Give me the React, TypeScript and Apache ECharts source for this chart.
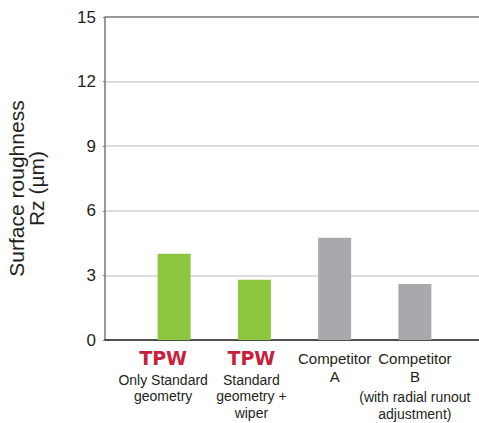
import React, { useEffect, useRef } from "react";
import * as echarts from "echarts";

const categories = ["tpw1", "tpw2", "compA", "compB"];
const labelLogo = ["TPW", "TPW", "", ""];
const labelMain = [["Only Standard", "geometry"], ["Standard", "geometry +", "wiper"], ["Competitor", "A"], ["Competitor", "B"]];
const labelNote = [[], [], [], ["(with radial runout", "adjustment)"]];
const values = [4.0, 2.8, 4.75, 2.6];
const yTicks = [0, 3, 6, 9, 12, 15];

const barColors = ["#8dc63f", "#8dc63f", "#a7a9ac", "#a7a9ac"];
const labelShift = [22, 6, 0, 0];
const FONT = "'Liberation Sans', Arial, Helvetica, sans-serif";

function buildLabel(i: number): string {
  const parts: string[] = [];
  if (labelLogo[i]) {
    parts.push(`{logo|${labelLogo[i]}}`);
    parts.push(`{sp1| }`);
    labelMain[i].forEach((l) => parts.push(`{t|${l}}`));
  } else {
    labelMain[i].forEach((l) => parts.push(`{c|${l}}`));
    if (labelNote[i].length) {
      parts.push(`{sp2| }`);
      labelNote[i].forEach((l) => parts.push(`{t|${l}}`));
    }
  }
  return parts.join("\n");
}

export default function App() {
  const ref = useRef<HTMLDivElement>(null);
  useEffect(() => {
    if (!ref.current) return;
    const chart = echarts.init(ref.current, undefined, { renderer: "svg" });
    const grey = "#d2d2d2";
    chart.setOption({
      animation: false,
      backgroundColor: "#ffffff",
      textStyle: { fontFamily: FONT },
      grid: [
        { left: 105, right: 0, top: 17, bottom: 83, containLabel: false, outerBoundsMode: "none" },
        { left: 134, right: 24, top: 17, bottom: 83, containLabel: false, outerBoundsMode: "none" },
      ],
      xAxis: [
        {
          type: "value",
          gridIndex: 0,
          min: 0,
          max: 1,
          axisLine: { show: true, lineStyle: { color: "#231f20", width: 1.5 } },
          axisTick: { show: false },
          axisLabel: { show: false },
          splitLine: { show: false },
        },
        {
          type: "category",
          gridIndex: 1,
          data: categories.map((c, i) => ({
            value: c,
            textStyle: { padding: [0, labelShift[i], 0, 0] },
          })),
          axisLine: { show: false },
          axisTick: { show: false },
          axisLabel: {
            interval: 0,
            margin: 9,
            formatter: (_v: string, idx: number) => buildLabel(idx),
            rich: {
              logo: {
                fontFamily: "'DejaVu Sans', sans-serif",
                fontWeight: "bold",
                fontSize: 19,
                color: "#c8203a",
                lineHeight: 18,
              },
              sp1: { fontSize: 1, lineHeight: 4.5 },
              sp2: { fontSize: 1, lineHeight: 4 },
              t: { fontFamily: FONT, fontSize: 14, color: "#231f20", lineHeight: 16.5 },
              c: { fontFamily: FONT, fontSize: 15, color: "#231f20", lineHeight: 18 },
            },
          },
        },
      ],
      yAxis: [
        {
          type: "value",
          gridIndex: 0,
          min: yTicks[0],
          max: yTicks[yTicks.length - 1],
          interval: 3,
          name: "Surface roughness\nRz (µm)",
          nameLocation: "middle",
          nameRotate: 90,
          nameGap: 59,
          nameTextStyle: {
            fontFamily: FONT,
            fontSize: 21,
            lineHeight: 20,
            color: "#231f20",
            padding: [0, 20, 0, 0],
          },
          axisLine: { show: true, lineStyle: { color: "#777777", width: 1.5 } },
          axisTick: { show: true, length: 2, lineStyle: { color: "#777777" } },
          axisLabel: { fontFamily: FONT, fontSize: 17, color: "#231f20", margin: 9 },
          splitLine: {
            show: true,
            lineStyle: { color: [grey, grey, grey, grey, grey, "#777777"], width: 1.5 },
          },
        },
        {
          type: "value",
          gridIndex: 1,
          min: yTicks[0],
          max: yTicks[yTicks.length - 1],
          show: false,
          splitLine: { show: false },
        },
      ],
      series: [
        {
          type: "bar",
          xAxisIndex: 1,
          yAxisIndex: 1,
          barWidth: 33,
          data: values.map((v, i) => ({ value: v, itemStyle: { color: barColors[i] } })),
        },
      ],
    });
    return () => chart.dispose();
  }, []);
  return (
    <div
      ref={ref}
      style={{ position: "fixed", left: 0, top: 0, width: 479, height: 423, background: "#fff" }}
    />
  );
}
